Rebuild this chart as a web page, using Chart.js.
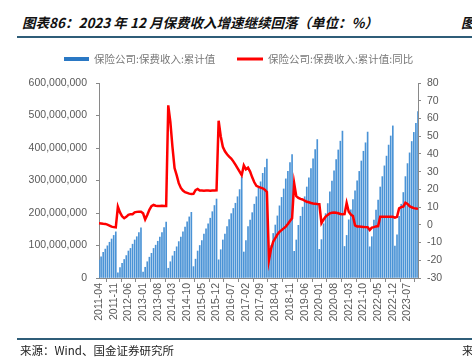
<!DOCTYPE html>
<html>
<head>
<meta charset="utf-8">
<script src="https://cdn.jsdelivr.net/npm/chart.js@4.4.1/dist/chart.umd.min.js"></script>
<style>
  html, body { margin: 0; padding: 0; background: #fff; width: 472px; height: 362px; overflow: hidden; }
  .txt { position: absolute; white-space: nowrap; font-family: "Noto Sans CJK SC", sans-serif; }
  #title { left: 22px; top: 12px; font-size: 13.5px; font-weight: bold; font-style: italic; color: #111; }
  #src { left: 20px; top: 342px; font-size: 11.5px; color: #222; }
  .rule { position: absolute; left: 17px; width: 460px; height: 2px; background: #2f5d78; }
  #wrap { position: absolute; left: 0; top: 40px; width: 472px; height: 300px; }
</style>
</head>
<body>
<div class="txt" id="title">图表86：2023 年 12 月保费收入增速继续回落（单位：%）</div>
<div class="txt" style="left:461px;top:12px;font-size:13.5px;font-weight:bold;font-style:italic;color:#111">图</div>
<div class="rule" style="top:36px"></div>
<div id="wrap"><canvas id="chart" width="472" height="300"></canvas></div>
<div class="rule" style="top:338px"></div>
<div class="txt" id="src">来源：Wind、国金证券研究所</div>
<div class="txt" style="left:462px;top:342px;font-size:11.5px;color:#222">来</div>
<script>
// 月份 2011-04 ~ 2023-12
const months = [];
for (let y = 2011; y <= 2023; y++) {
  for (let m = (y === 2011 ? 4 : 1); m <= 12; m++) months.push(y + '-' + String(m).padStart(2, '0'));
}

const tickLabels = ['2011-04','2011-11','2012-06','2013-01','2013-08','2014-03','2014-10','2015-05',
  '2015-12','2016-07','2017-02','2017-09','2018-04','2018-11','2019-06','2020-01','2020-08','2021-03',
  '2021-10','2022-05','2022-12','2023-07'];

// 保险公司:保费收入:累计值 (万元)
const premium = [
  55e6, 65e6, 79e6, 89e6, 99e6, 110e6, 120e6, 131e6, 142e6,
  16e6, 32e6, 45e6, 57e6, 69e6, 83e6, 91e6, 104e6, 117e6, 127e6, 140e6, 154e6,
  18e6, 33e6, 50e6, 64e6, 76e6, 91e6, 101e6, 113e6, 126e6, 140e6, 155e6, 172e6,
  30e6, 50e6, 68e6, 82e6, 96e6, 112e6, 126e6, 142e6, 157e6, 173e6, 188e6, 202e6,
  35e6, 58e6, 83e6, 100e6, 115e6, 135e6, 151e6, 167e6, 184e6, 204e6, 223e6, 243e6,
  56e6, 87e6, 117e6, 135e6, 158e6, 180e6, 198e6, 214e6, 230e6, 250e6, 272e6, 310e6,
  80e6, 115e6, 158e6, 178e6, 201e6, 227e6, 250e6, 276e6, 296e6, 322e6, 340e6, 366e6,
  64e6, 100e6, 137e6, 163e6, 191e6, 222e6, 248e6, 274e6, 305e6, 328e6, 355e6, 380e6,
  82e6, 117e6, 162e6, 190e6, 218e6, 250e6, 280e6, 308e6, 337e6, 367e6, 395e6, 426e6,
  88e6, 118e6, 167e6, 198e6, 229e6, 265e6, 298e6, 330e6, 364e6, 394e6, 421e6, 452e6,
  97e6, 131e6, 179e6, 210e6, 241e6, 268e6, 299e6, 328e6, 360e6, 390e6, 416e6, 449e6,
  96e6, 127e6, 178e6, 209e6, 240e6, 280e6, 312e6, 345e6, 375e6, 409e6, 437e6, 468e6,
  98e6, 133e6, 190e6, 227e6, 263e6, 312e6, 352e6, 385e6, 420e6, 448e6, 476e6, 512e6
];

// 保险公司:保费收入:累计值:同比 (%)
const growth = [
  0.9, 0.8, 0.6, 0.5, 0.1, -0.4, -1.0, -1.3, -1.4,
  10.2, 7.0, 4.8, 3.7, 4.5, 5.6, 6.0, 6.0, 7.0, 7.3, 7.4, 7.4,
  6.5, 3.0, 5.5, 8.5, 10.5, 11.2, 10.8, 10.6, 10.6, 10.7, 10.6, 10.6,
  67.4, 58.0, 44.0, 32.0, 28.0, 23.5, 20.8, 19.3, 18.4, 18.0, 17.6, 17.4,
  17.5, 19.6, 20.2, 19.4, 19.3, 19.2, 19.3, 19.3, 19.2, 19.3, 19.3, 19.4,
  58.7, 50.0, 44.0, 41.5, 39.8, 38.5, 37.4, 35.8, 34.0, 32.0, 30.0, 28.0,
  33.5, 31.3, 32.2, 30.0, 26.8, 24.0, 22.0, 21.4, 21.0, 20.6, 19.8, 18.5,
  -19.8, -13.5, -9.5, -7.5, -5.5, -4.0, -3.0, -2.0, -1.0, 0.5, 2.2, 3.7,
  23.4, 16.2, 15.2, 14.6, 14.3, 13.6, 13.0, 12.7, 12.3, 12.0, 11.9, 11.7,
  11.6, 1.0, 3.0, 4.6, 5.6, 6.5, 6.8, 6.9, 6.8, 6.5, 6.1, 5.9,
  6.0, 12.3, 7.4, 5.8, 5.0, -0.3, -0.9, -1.0, -1.1, -1.2, -1.3, -1.4,
  -2.9, -1.6, -1.3, -0.9, -0.7, 4.6, 4.6, 4.6, 4.6, 4.6, 4.5, 4.5,
  4.0, 4.5, 9.3, 10.0, 10.3, 12.5, 11.8, 10.5, 9.9, 9.4, 9.2, 9.0
];

const axisColor = '#898989';
const tickFont = { family: 'Liberation Sans, Arial, sans-serif', size: 10.5 };

const legendPlugin = {
  id: 'fixedLegend',
  afterDraw(chart) {
    const ctx = chart.ctx;
    ctx.save();
    ctx.font = '10.5px "Noto Sans CJK SC", sans-serif';
    ctx.fillStyle = '#2a78c4';
    ctx.fillRect(64, 17, 25, 4);
    ctx.strokeStyle = '#ff0000';
    ctx.lineWidth = 3;
    ctx.beginPath();
    ctx.moveTo(237, 19);
    ctx.lineTo(263, 19);
    ctx.stroke();
    ctx.fillStyle = '#777';
    ctx.textBaseline = 'middle';
    ctx.fillText(chart.data.datasets[1].label, 94, 19.5);
    ctx.fillText(chart.data.datasets[0].label, 268, 19.5);
    ctx.restore();
  }
};

new Chart(document.getElementById('chart').getContext('2d'), {
  type: 'bar',
  plugins: [legendPlugin],
  data: {
    labels: months,
    datasets: [{
      type: 'line',
      label: '保险公司:保费收入:累计值:同比',
      data: growth,
      yAxisID: 'y1',
      borderColor: '#ff0000',
      borderWidth: 2.5,
      pointRadius: 0,
      tension: 0,
      order: 0
    }, {
      type: 'bar',
      label: '保险公司:保费收入:累计值',
      data: premium,
      yAxisID: 'y',
      backgroundColor: '#4a93d6',
      barThickness: 1,
      order: 1
    }]
  },
  options: {
    responsive: false,
    animation: false,
    devicePixelRatio: 1,
    layout: { padding: { top: 43, left: 0, right: 0, bottom: 0 } },
    plugins: { legend: { display: false }, tooltip: { enabled: false } },
    scales: {
      x: {
        offset: false,
        grid: { drawOnChartArea: false, drawTicks: true, tickLength: 4, color: axisColor },
        border: { color: axisColor },
        ticks: { autoSkip: false, minRotation: 90, maxRotation: 90, padding: 1, color: '#595959', font: tickFont },
        afterBuildTicks(scale) {
          scale.ticks = scale.ticks.filter(t => tickLabels.includes(months[t.value]));
        },
        afterFit(scale) { scale.height = 62; }
      },
      y: {
        position: 'left',
        min: 0,
        max: 600000000,
        grid: { drawOnChartArea: false, drawTicks: true, tickLength: 3, color: axisColor },
        border: { color: axisColor },
        ticks: {
          stepSize: 100000000,
          padding: 9,
          color: '#595959',
          font: tickFont,
          callback: v => v.toLocaleString('en-US')
        },
        afterFit(scale) { scale.width = 99; }
      },
      y1: {
        position: 'right',
        min: -30,
        max: 80,
        grid: { drawOnChartArea: false, drawTicks: true, tickLength: 3, color: axisColor },
        border: { color: axisColor },
        ticks: { stepSize: 10, padding: 6, color: '#595959', font: tickFont },
        afterFit(scale) { scale.width = 54; }
      }
    }
  }
});
</script>
</body>
</html>
